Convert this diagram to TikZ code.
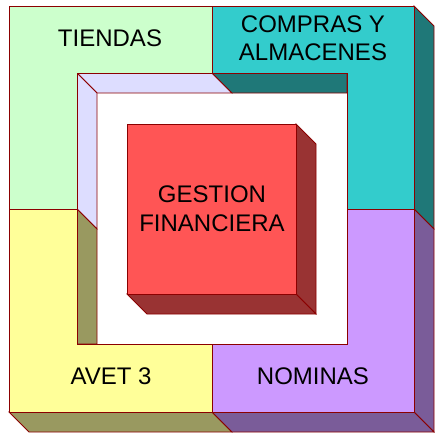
\documentclass[tikz,border=0pt]{standalone}
\usepackage{fontspec}
\setmainfont{Liberation Sans}
\usetikzlibrary{calc}
\definecolor{verde}{HTML}{CCFFCC}
\definecolor{lila}{HTML}{DDDDFF}
\definecolor{turq}{HTML}{33CCCC}
\definecolor{turqosc}{HTML}{1F7878}
\definecolor{amar}{HTML}{FFFF99}
\definecolor{oliva}{HTML}{999960}
\definecolor{malva}{HTML}{CC99FF}
\definecolor{malvaosc}{HTML}{7A5C99}
\definecolor{rojo}{HTML}{FF5555}
\definecolor{rojoosc}{HTML}{993333}
\definecolor{borde}{HTML}{8B0000}
\begin{document}
\begin{tikzpicture}[x=1pt,y=-1pt,
            cara/.style={draw=borde, line width=0.8pt, line join=miter},
            rotulo/.style={font=\fontsize{24}{28.5}\selectfont, align=center, inner sep=0pt}]
            \useasboundingbox (0,0) rectangle (439,437);
            \coordinate (d) at (20,20);

            % paredes interiores
            \filldraw[cara, fill=lila] (77,73) -- (212,73) -- ($(212,73)+(d)$) -- ($(77,73)+(d)$) -- cycle;
            \filldraw[cara, fill=lila] (77,73) -- ($(77,73)+(d)$) -- ($(77,209)+(d)$) -- (77,209) -- cycle;
            \filldraw[cara, fill=oliva] (77,209) -- ($(77,209)+(d)$) -- (97,344) -- (77,344) -- cycle;
            \filldraw[cara, fill=turqosc] (212,73) -- (347,73) -- (347,93) -- ($(212,73)+(d)$) -- cycle;

            % paredes exteriores
            \filldraw[cara, fill=turqosc] (414,6) -- ($(414,6)+(d)$) -- ($(414,209)+(d)$) -- (414,209) -- cycle;
            \filldraw[cara, fill=malvaosc] (414,209) -- ($(414,209)+(d)$) -- ($(414,412)+(d)$) -- (414,412) -- cycle;
            \filldraw[cara, fill=oliva] (9,412) -- (212,412) -- ($(212,412)+(d)$) -- ($(9,412)+(d)$) -- cycle;
            \filldraw[cara, fill=malvaosc] (212,412) -- (414,412) -- ($(414,412)+(d)$) -- ($(212,412)+(d)$) -- cycle;

            % caras frontales
            \filldraw[cara, fill=verde] (9,6) -- (212,6) -- (212,73) -- (77,73) -- (77,209) -- (9,209) -- cycle;
            \filldraw[cara, fill=turq] (212,6) -- (414,6) -- (414,209) -- (347,209) -- (347,73) -- (212,73) -- cycle;
            \filldraw[cara, fill=amar] (9,209) -- (77,209) -- (77,344) -- (212,344) -- (212,412) -- (9,412) -- cycle;
            \filldraw[cara, fill=malva] (414,209) -- (414,412) -- (212,412) -- (212,344) -- (347,344) -- (347,209) -- cycle;

            % cubo central
            \filldraw[cara, fill=rojoosc] (296,124) -- ($(296,124)+(d)$) -- ($(296,294)+(d)$) -- (296,294) -- cycle;
            \filldraw[cara, fill=rojoosc] (127,294) -- (296,294) -- ($(296,294)+(d)$) -- ($(127,294)+(d)$) -- cycle;
            \filldraw[cara, fill=rojo] (127,124) rectangle (296,294);

            \node[rotulo] (tiendas) at (110,38) {TIENDAS};
            \node[rotulo] (compras) at (313,38) {COMPRAS Y\\ALMACENES};
            \node[rotulo] (gestion) at (212,208.5) {GESTION\\FINANCIERA};
            \node[rotulo] (avet) at (111,376.5) {AVET 3};
            \node[rotulo] (nominas) at (313,376.5) {NOMINAS};
        \end{tikzpicture}
\end{document}
